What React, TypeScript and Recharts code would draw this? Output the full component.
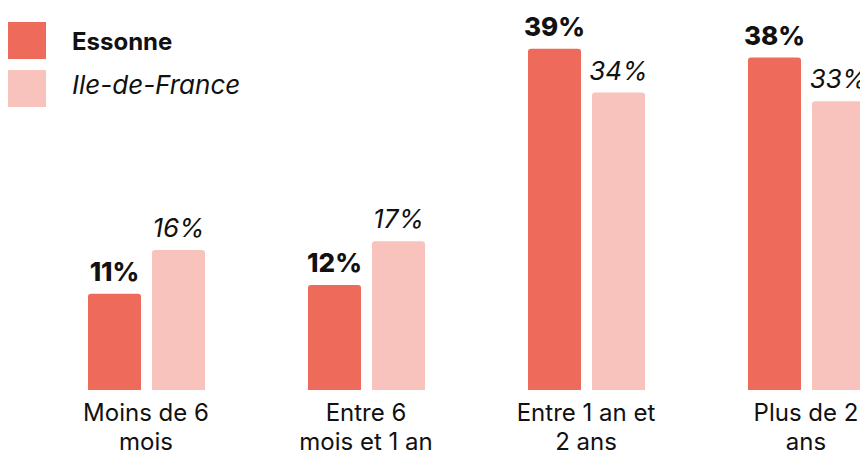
import { BarChart, Bar, XAxis, YAxis, LabelList } from 'recharts';

const categories = ['Moins de 6 mois', 'Entre 6 mois et 1 an', 'Entre 1 an et 2 ans', 'Plus de 2 ans'];
const tickLines = [
  ['Moins de 6', 'mois'],
  ['Entre 6', 'mois et 1 an'],
  ['Entre 1 an et', '2 ans'],
  ['Plus de 2', 'ans'],
];
const essonne = [11, 12, 39, 38];
const ileDeFrance = [16, 17, 34, 33];

const ESSONNE = '#ee6a5a';
const IDF = '#f8c3bc';
const FONT = 'Inter, "Open Sans", sans-serif';

const data = categories.map((name, i) => ({ name, essonne: essonne[i], idf: ileDeFrance[i] }));

// two-line category label under each group
const CatTick = (props: any) => {
  const { x, y, payload } = props;
  const lines = tickLines[payload.index] || [payload.value];
  return (
    <text x={x} y={y} textAnchor="middle" fill="#111" fontSize={24} fontFamily={FONT}>
      {lines.map((l: string, i: number) => (
        <tspan key={i} x={x} dy={i === 0 ? 23 : 29}>{l}</tspan>
      ))}
    </text>
  );
};

const makeLabel = (bold: boolean) => (props: any) => {
  const { x, y, width, value } = props;
  return (
    <text
      x={x + width / 2}
      y={y - 13}
      textAnchor="middle"
      fill="#111"
      fontSize={26}
      fontWeight={bold ? 800 : 400}
      fontStyle={bold ? 'normal' : 'italic'}
      fontFamily={FONT}
    >
      {value}%
    </text>
  );
};

export default function App() {
  return (
    <div style={{ position: 'relative', margin: -8, width: 868, height: 461, overflow: 'hidden', background: '#fff' }}>
      <div style={{ position: 'absolute', left: 0, top: 0 }}>
        <BarChart
          width={920}
          height={461}
          data={data}
          margin={{ top: 40, right: 4, bottom: 0, left: 36 }}
          barSize={53}
          barGap={11}
        >
          <XAxis dataKey="name" height={71} axisLine={false} tickLine={false} tick={<CatTick />} interval={0} />
          <YAxis hide domain={[0, 40]} />
          <Bar dataKey="essonne" fill={ESSONNE} radius={[3, 3, 0, 0]} isAnimationActive={false}>
            <LabelList dataKey="essonne" content={makeLabel(true)} />
          </Bar>
          <Bar dataKey="idf" fill={IDF} radius={[3, 3, 0, 0]} isAnimationActive={false}>
            <LabelList dataKey="idf" content={makeLabel(false)} />
          </Bar>
        </BarChart>
      </div>
      {/* legend drawn as plain html so it doesn't shift the plot */}
      <div style={{ position: 'absolute', left: 8, top: 22, fontFamily: FONT, color: '#111' }}>
        <div style={{ display: 'flex', alignItems: 'center', height: 37 }}>
          <div style={{ width: 38, height: 37, background: ESSONNE }} />
          <span style={{ marginLeft: 26, fontWeight: 700, fontSize: 24, position: 'relative', top: 1 }}>Essonne</span>
        </div>
        <div style={{ display: 'flex', alignItems: 'center', height: 37, marginTop: 11 }}>
          <div style={{ width: 38, height: 37, background: IDF }} />
          <span style={{ marginLeft: 26, fontStyle: 'italic', fontSize: 26, position: 'relative', top: -4 }}>Ile-de-France</span>
        </div>
      </div>
    </div>
  );
}
